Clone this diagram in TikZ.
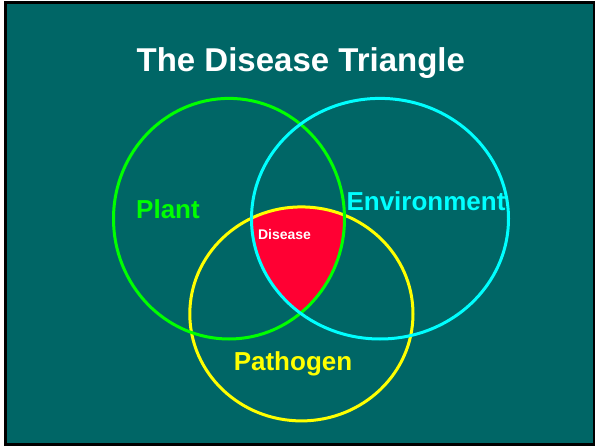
\documentclass[tikz,border=0pt]{standalone}
\usepackage{fontspec}
\setmainfont{Liberation Sans}
\definecolor{teal0}{RGB}{0,102,102}
\definecolor{red0}{RGB}{255,0,51}
\definecolor{green0}{RGB}{0,255,0}
\definecolor{cyan0}{RGB}{0,255,255}
\definecolor{yellow0}{RGB}{255,255,0}
\begin{document}
\begin{tikzpicture}[x=1pt,y=-1pt,
  ring/.style={line width=3pt},
  lbl/.style={font=\fontsize{26}{30}\selectfont\bfseries, inner sep=0pt}]
\useasboundingbox (0,0) rectangle (595,447);
\fill[white] (0,0) rectangle (595,447);
\fill[black] (4,1) rectangle (595,446);
\fill[teal0] (7,4) rectangle (593,443);
% red intersection
\begin{scope}
  \clip (229,218.7) ellipse [x radius=115.5, y radius=120.3];
  \clip (380,218.7) ellipse [x radius=128.5, y radius=120.3];
  \fill[red0] (301.4,313.9) ellipse [x radius=111.6, y radius=107];
\end{scope}
\draw[ring,yellow0] (301.4,313.9) ellipse [x radius=111.6, y radius=107];
\draw[ring,green0] (229,218.7) ellipse [x radius=115.5, y radius=120.3];
\draw[ring,cyan0] (380,218.7) ellipse [x radius=128.5, y radius=120.3];
\node[font=\fontsize{33}{39}\selectfont\bfseries, text=white, anchor=base, inner sep=0pt] (title) at (300.8,71) {The Disease Triangle};
\node[lbl, text=green0, anchor=base] (plant) at (168,218) {Plant};
\node[lbl, text=cyan0, anchor=base] (env) at (426,210) {Environment};
\node[lbl, text=yellow0, anchor=base] (path) at (293,370) {Pathogen};
\node[font=\fontsize{14}{17}\selectfont\bfseries, text=white, anchor=base, inner sep=0pt] (dis) at (284.5,239) {Disease};
\end{tikzpicture}
\end{document}
